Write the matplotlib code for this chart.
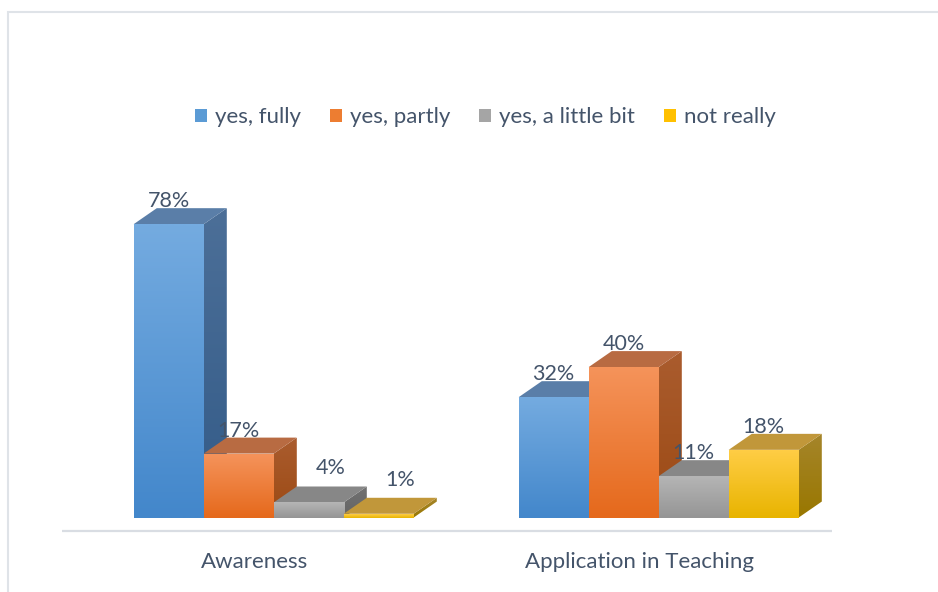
import numpy as np
import matplotlib
matplotlib.use("Agg")
import matplotlib.pyplot as plt
from matplotlib.patches import Polygon, Rectangle, Patch
from matplotlib.colors import to_rgb

# ---------------- data ----------------
categories = ["Awareness", "Application in Teaching"]
series = ["yes, fully", "yes, partly", "yes, a little bit", "not really"]
yes_fully = [78, 32]
yes_partly = [17, 40]
yes_little = [4, 11]
not_really = [1, 18]
values = [yes_fully, yes_partly, yes_little, not_really]

# ---------------- style ----------------
front_top = ["#74abe0", "#f5935a", "#b5b5b5", "#ffcd45"]
front_bot = ["#4387cb", "#e5691c", "#959595", "#e8b400"]
top_col = ["#5a7ea8", "#b86b42", "#878787", "#c1973a"]
side_top = ["#4c6f98", "#aa5c2e", "#727272", "#a5852a"]
side_bot = ["#335b88", "#9c4a14", "#646464", "#997700"]
legend_col = ["#5b9bd5", "#ed7d31", "#a5a5a5", "#ffc000"]
text_col = "#44546a"
FONT = ["Lato", "DejaVu Sans"]

W = 1.0          # bar width (x units)
GAP = 5.5        # distance between category centres
SHIFT = 0.27     # bars sit behind the floor's front edge
DX = 0.33        # 3-D depth offset, x units
DY = 4.25        # 3-D depth offset, y units

fig = plt.figure(figsize=(9.38, 5.92), dpi=100)
ax = fig.add_axes([0, 0, 1, 1])
ax.set_axis_off()

def grad_img(c_top, c_bot, n=64):
    t = np.linspace(0, 1, n)[:, None]
    a, b = np.array(to_rgb(c_top)), np.array(to_rgb(c_bot))
    return (a * (1 - t) + b * t)[:, None, :]

z = 2
for i, cat in enumerate(categories):
    centre = i * GAP
    for j in range(len(series)):
        v = values[j][i]
        x0 = centre + SHIFT + (j - 2) * W
        x1 = x0 + W
        # side face
        side = Polygon([(x1, 0), (x1 + DX, DY), (x1 + DX, v + DY), (x1, v)],
                       closed=True, facecolor="none", edgecolor="none", zorder=z)
        ax.add_patch(side)
        im = ax.imshow(grad_img(side_top[j], side_bot[j]), extent=[x1, x1 + DX, 0, v + DY],
                       aspect="auto", interpolation="bilinear", zorder=z)
        im.set_clip_path(side)
        # top face
        ax.add_patch(Polygon([(x0, v), (x0 + DX, v + DY), (x1 + DX, v + DY), (x1, v)],
                             closed=True, facecolor=top_col[j], edgecolor="none", zorder=z + 1))
        # front face
        ax.imshow(grad_img(front_top[j], front_bot[j]), extent=[x0, x1, 0, v],
                  aspect="auto", interpolation="bilinear", zorder=z + 2)
        z += 3
        # value label
        lx = (x0 + x1) / 2 + (DX * 0.95 if v < 5 else 0)
        ly = v + DY + (3.2 if v < 5 else 0.2)
        ax.text(lx, ly, f"{v}%", ha="center", va="baseline", fontsize=15.5,
                color=text_col, family=FONT, zorder=100)
    ax.text(centre, -11.8, cat, ha="center", va="center", fontsize=16,
            color=text_col, family=FONT)

# floor / axis line
ax.plot([-GAP / 2, (len(categories) - 1) * GAP + GAP / 2], [-3.7, -3.7],
        color="#d9dde3", lw=1.6, solid_capstyle="butt", zorder=1)

ax.set_xlim(-3.64, 9.76)
ax.set_ylim(-19.8, 137.6)

# chart border
fig.patches.append(Rectangle((8 / 938, -0.05), 1.0, 1 - 12 / 592 + 0.05,
                             transform=fig.transFigure, facecolor="none",
                             edgecolor="#dfe3e8", lw=1.5))

handles = [Patch(facecolor=c, edgecolor="none") for c in legend_col]
leg = fig.legend(handles, series, loc="center", bbox_to_anchor=(0.5176, 0.802), ncol=4,
                 frameon=False, handlelength=0.55, handleheight=0.55,
                 handletextpad=0.35, columnspacing=1.3, prop={"family": FONT, "size": 16})
for t in leg.get_texts():
    t.set_color(text_col)

fig.savefig("out.png", dpi=100)
